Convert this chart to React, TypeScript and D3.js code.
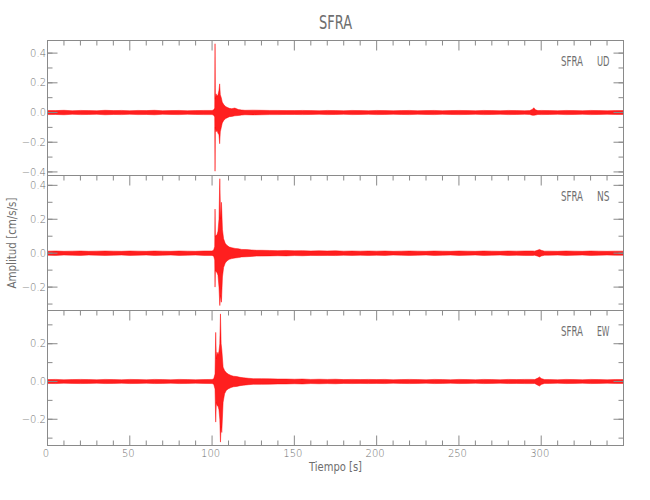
import React from "react";
import * as d3 from "d3";

// ---------- data ----------
const title = "SFRA";
const xLabel = "Tiempo [s]";
const yLabel = "Amplitud [cm/s/s]";
const components = ["UD", "NS", "EW"];
const xTicksMajor = [0, 50, 100, 150, 200, 250, 300];
const xDomain = [0, 350];
const yDomainUD = [-0.424, 0.485];
const yDomainNS = [-0.338, 0.458];
const yDomainEW = [-0.339, 0.376];

// background noise envelope, one value every 5 s from 0 to 350 s
const noiseStep = 5;
const udNoise = [
  0.014, 0.013, 0.015, 0.012, 0.014, 0.013, 0.012, 0.015, 0.013, 0.014,
  0.012, 0.014, 0.013, 0.015, 0.012, 0.013, 0.014, 0.012, 0.013, 0.014,
  0.015, 0.03, 0.025, 0.02, 0.017, 0.016, 0.015, 0.014, 0.014, 0.013,
  0.013, 0.014, 0.013, 0.012, 0.014, 0.013, 0.012, 0.014, 0.013, 0.012,
  0.014, 0.013, 0.012, 0.013, 0.014, 0.012, 0.013, 0.014, 0.012, 0.013,
  0.014, 0.013, 0.012, 0.014, 0.013, 0.012, 0.014, 0.013, 0.012, 0.013,
  0.014, 0.013, 0.012, 0.014, 0.013, 0.012, 0.014, 0.013, 0.012, 0.013,
  0.013,
];
const nsNoise = [
  0.012, 0.013, 0.011, 0.012, 0.013, 0.011, 0.012, 0.013, 0.012, 0.011,
  0.013, 0.012, 0.011, 0.013, 0.012, 0.011, 0.013, 0.012, 0.011, 0.013,
  0.014, 0.03, 0.03, 0.025, 0.02, 0.018, 0.017, 0.016, 0.015, 0.016,
  0.014, 0.015, 0.013, 0.014, 0.013, 0.014, 0.012, 0.013, 0.012, 0.013,
  0.012, 0.013, 0.011, 0.012, 0.013, 0.012, 0.011, 0.013, 0.012, 0.011,
  0.013, 0.012, 0.011, 0.013, 0.012, 0.011, 0.013, 0.012, 0.013, 0.013,
  0.013, 0.012, 0.011, 0.013, 0.012, 0.011, 0.013, 0.012, 0.011, 0.012,
  0.012,
];
const ewNoise = [
  0.010, 0.011, 0.009, 0.010, 0.011, 0.010, 0.009, 0.011, 0.010, 0.009,
  0.011, 0.010, 0.009, 0.011, 0.010, 0.009, 0.011, 0.010, 0.009, 0.010,
  0.012, 0.03, 0.03, 0.025, 0.018, 0.016, 0.015, 0.014, 0.013, 0.013,
  0.012, 0.013, 0.011, 0.012, 0.011, 0.012, 0.010, 0.011, 0.010, 0.011,
  0.010, 0.011, 0.009, 0.010, 0.011, 0.010, 0.009, 0.011, 0.010, 0.009,
  0.011, 0.010, 0.009, 0.011, 0.010, 0.009, 0.011, 0.010, 0.011, 0.011,
  0.011, 0.010, 0.009, 0.011, 0.010, 0.009, 0.011, 0.010, 0.009, 0.010,
  0.010,
];

// main event envelopes
const udEventT = [100, 101, 101.6, 101.8, 102.0, 102.4, 103, 103.6, 104.2, 104.6, 105, 105.6, 106.2, 107, 108, 109, 110.5, 112, 113.8, 116, 118, 120];
const udEventUp = [0.014, 0.018, 0.03, 0.463, 0.09, 0.126, 0.11, 0.12, 0.15, 0.193, 0.12, 0.1, 0.07, 0.055, 0.042, 0.036, 0.028, 0.026, 0.03, 0.02, 0.017, 0.015];
const udEventLo = [-0.014, -0.018, -0.03, -0.395, -0.1, -0.13, -0.12, -0.14, -0.15, -0.21, -0.13, -0.1, -0.07, -0.055, -0.042, -0.036, -0.028, -0.026, -0.022, -0.02, -0.017, -0.015];

const nsEventT = [100, 101, 101.6, 101.8, 102.0, 102.5, 103, 103.6, 104.2, 104.7, 105.2, 105.7, 106.3, 107, 108, 109, 110.5, 112, 114, 116, 118, 121, 124, 127];
const nsEventUp = [0.013, 0.018, 0.04, 0.26, 0.1, 0.105, 0.11, 0.13, 0.2, 0.439, 0.2, 0.3, 0.14, 0.085, 0.058, 0.046, 0.036, 0.032, 0.028, 0.026, 0.022, 0.021, 0.019, 0.017];
const nsEventLo = [-0.013, -0.018, -0.04, -0.2, -0.1, -0.11, -0.115, -0.13, -0.2, -0.309, -0.25, -0.289, -0.14, -0.085, -0.058, -0.046, -0.036, -0.032, -0.028, -0.026, -0.022, -0.021, -0.019, -0.017];

const ewEventT = [100, 101, 101.8, 102.2, 102.6, 103, 103.6, 104.2, 104.7, 105.1, 105.5, 105.9, 106.7, 107.6, 108.7, 110, 111.5, 113, 115, 117, 119, 122, 125];
const ewEventUp = [0.011, 0.014, 0.04, 0.26, 0.12, 0.155, 0.14, 0.16, 0.2, 0.358, 0.2, 0.17, 0.076, 0.058, 0.046, 0.038, 0.032, 0.028, 0.026, 0.022, 0.02, 0.017, 0.015];
const ewEventLo = [-0.011, -0.014, -0.04, -0.215, -0.11, -0.127, -0.13, -0.15, -0.2, -0.321, -0.24, -0.27, -0.11, -0.065, -0.046, -0.038, -0.032, -0.028, -0.026, -0.022, -0.02, -0.017, -0.015];

// small late arrival near 298 s
const udBumpT = [293, 294.5, 295.5, 296.5, 298];
const udBumpUp = [0.013, 0.02, 0.032, 0.018, 0.013];
const udBumpLo = [-0.013, -0.018, -0.019, -0.017, -0.013];
const nsBumpT = [296, 298, 299, 300, 302];
const nsBumpUp = [0.012, 0.018, 0.022, 0.017, 0.012];
const nsBumpLo = [-0.012, -0.018, -0.022, -0.017, -0.012];
const ewBumpT = [296, 298, 299, 300, 302];
const ewBumpUp = [0.01, 0.018, 0.024, 0.016, 0.01];
const ewBumpLo = [-0.01, -0.02, -0.024, -0.016, -0.01];

// ---------- layout ----------
const W = 650;
const H = 500;
const L = 47.5;
const R = 623.5;
const panelTops = [40.5, 175.5, 310.5];
const panelH = 135;
const AX = "#8a8a8a";
const TXT = "#6e6e6e";
const RED = "#ff0000";
const NUM_FONT = "'DejaVu Sans', sans-serif";
const LET_FONT = "'Liberation Sans Narrow', 'DejaVu Sans Condensed', sans-serif";

type Pt = { t: number; up: number; lo: number };

function buildSeries(
  noise: number[],
  ev: [number[], number[], number[]],
  bump: [number[], number[], number[]]
): Pt[] {
  const pts: Pt[] = [];
  const windows = [ev, bump].map((e) => [e[0][0], e[0][e[0].length - 1]]);
  noise.forEach((v, i) => {
    const t = i * noiseStep;
    const inside = windows.some(([a, b]) => t >= a && t <= b);
    if (!inside) pts.push({ t, up: v, lo: -v });
  });
  [ev, bump].forEach((e) => {
    e[0].forEach((t, i) => pts.push({ t, up: e[1][i], lo: e[2][i] }));
  });
  pts.sort((a, b) => a.t - b.t);
  return pts;
}

const panels = [
  { name: components[0], domain: yDomainUD, data: buildSeries(udNoise, [udEventT, udEventUp, udEventLo], [udBumpT, udBumpUp, udBumpLo]) },
  { name: components[1], domain: yDomainNS, data: buildSeries(nsNoise, [nsEventT, nsEventUp, nsEventLo], [nsBumpT, nsBumpUp, nsBumpLo]) },
  { name: components[2], domain: yDomainEW, data: buildSeries(ewNoise, [ewEventT, ewEventUp, ewEventLo], [ewBumpT, ewBumpUp, ewBumpLo]) },
];

const fmt = d3.format(".1f");

export default function App() {
  const x = d3.scaleLinear().domain(xDomain).range([L, R]);
  const xMinor = d3.range(xDomain[0], xDomain[1] + 0.001, 10);
  const lastBottom = panelTops[2] + panelH;

  return (
    <svg width={W} height={H} style={{ display: "block", position: "absolute", left: 0, top: 0, background: "#fff" }}>
      <rect x={0} y={0} width={W} height={H} fill="#fff" />
      {panels.map((p, pi) => {
        const top = panelTops[pi];
        const y = d3.scaleLinear().domain(p.domain).range([top + panelH, top]);
        const area = d3
          .area<Pt>()
          .x((d) => x(d.t))
          .y0((d) => y(d.lo))
          .y1((d) => y(d.up));
        const majors = d3.range(-0.4, 0.41, 0.2).map((v) => Math.round(v * 10) / 10).filter((v) => v >= p.domain[0] && v <= p.domain[1]);
        const minors = d3.range(-0.4, 0.41, 0.1).map((v) => Math.round(v * 10) / 10).filter((v) => v >= p.domain[0] && v <= p.domain[1]);
        const clipId = `clip${pi}`;
        return (
          <g key={p.name}>
            <defs>
              <clipPath id={clipId}>
                <rect x={L} y={top} width={R - L} height={panelH} />
              </clipPath>
            </defs>
            <g clipPath={`url(#${clipId})`}>
              <path d={area(p.data) || ""} fill={RED} fillOpacity={0.88} stroke={RED} strokeOpacity={0.8} strokeWidth={0.6} strokeLinejoin="round" />
            </g>
            {/* frame */}
            <rect x={L} y={top} width={R - L} height={panelH} fill="none" stroke={AX} strokeWidth={1} />
            {/* y ticks */}
            {minors.map((v) => (
              <g key={"m" + v}>
                <line x1={L} x2={L + 5} y1={y(v)} y2={y(v)} stroke={AX} />
                <line x1={R} x2={R - 5} y1={y(v)} y2={y(v)} stroke={AX} />
              </g>
            ))}
            {majors.map((v) => (
              <g key={"M" + v}>
                <line x1={L} x2={L + 10} y1={y(v)} y2={y(v)} stroke={AX} />
                <line x1={R} x2={R - 10} y1={y(v)} y2={y(v)} stroke={AX} />
                <text x={L - 1.5} y={y(v) + 3.6} textAnchor="end" fontFamily={NUM_FONT} fontWeight={200} fontSize={10} fill={TXT}>
                  {fmt(v)}
                </text>
              </g>
            ))}
            {/* x ticks at panel top pointing down */}
            {xMinor.map((v) => {
              const major = v % 50 === 0;
              return <line key={"xt" + v} x1={x(v)} x2={x(v)} y1={top} y2={top + (major ? 10 : 5)} stroke={AX} />;
            })}
            {/* component label */}
            <text x={561} y={top + 25.5} fontFamily={LET_FONT} fontSize={13.5} fill={TXT} textLength={22} lengthAdjust="spacingAndGlyphs">
              {title}
            </text>
            <text x={597} y={top + 25.5} fontFamily={LET_FONT} fontSize={13.5} fill={TXT} textLength={12.5} lengthAdjust="spacingAndGlyphs">
              {p.name}
            </text>
          </g>
        );
      })}
      {/* bottom x ticks pointing up */}
      {xMinor.map((v) => {
        const major = v % 50 === 0;
        return <line key={"xb" + v} x1={x(v)} x2={x(v)} y1={lastBottom} y2={lastBottom - (major ? 10 : 5)} stroke={AX} />;
      })}
      {xTicksMajor.map((v) => (
        <text key={"xl" + v} x={x(v) - 1.5} y={457} textAnchor="middle" fontFamily={NUM_FONT} fontWeight={200} fontSize={10} fill={TXT}>
          {String(v)}
        </text>
      ))}
      {/* titles */}
      <text x={(L + R) / 2} y={29} textAnchor="middle" fontFamily={LET_FONT} fontSize={19} fill={TXT} textLength={33} lengthAdjust="spacingAndGlyphs">
        {title}
      </text>
      <text x={(L + R) / 2} y={471} textAnchor="middle" fontFamily={LET_FONT} fontSize={12} fill={TXT} textLength={53} lengthAdjust="spacingAndGlyphs">
        {xLabel}
      </text>
      <text
        transform={`translate(15.5, ${(panelTops[0] + lastBottom) / 2}) rotate(-90)`}
        textAnchor="middle"
        fontFamily={LET_FONT}
        fontSize={12}
        fill={TXT}
        textLength={91}
        lengthAdjust="spacingAndGlyphs"
      >
        {yLabel}
      </text>
    </svg>
  );
}
